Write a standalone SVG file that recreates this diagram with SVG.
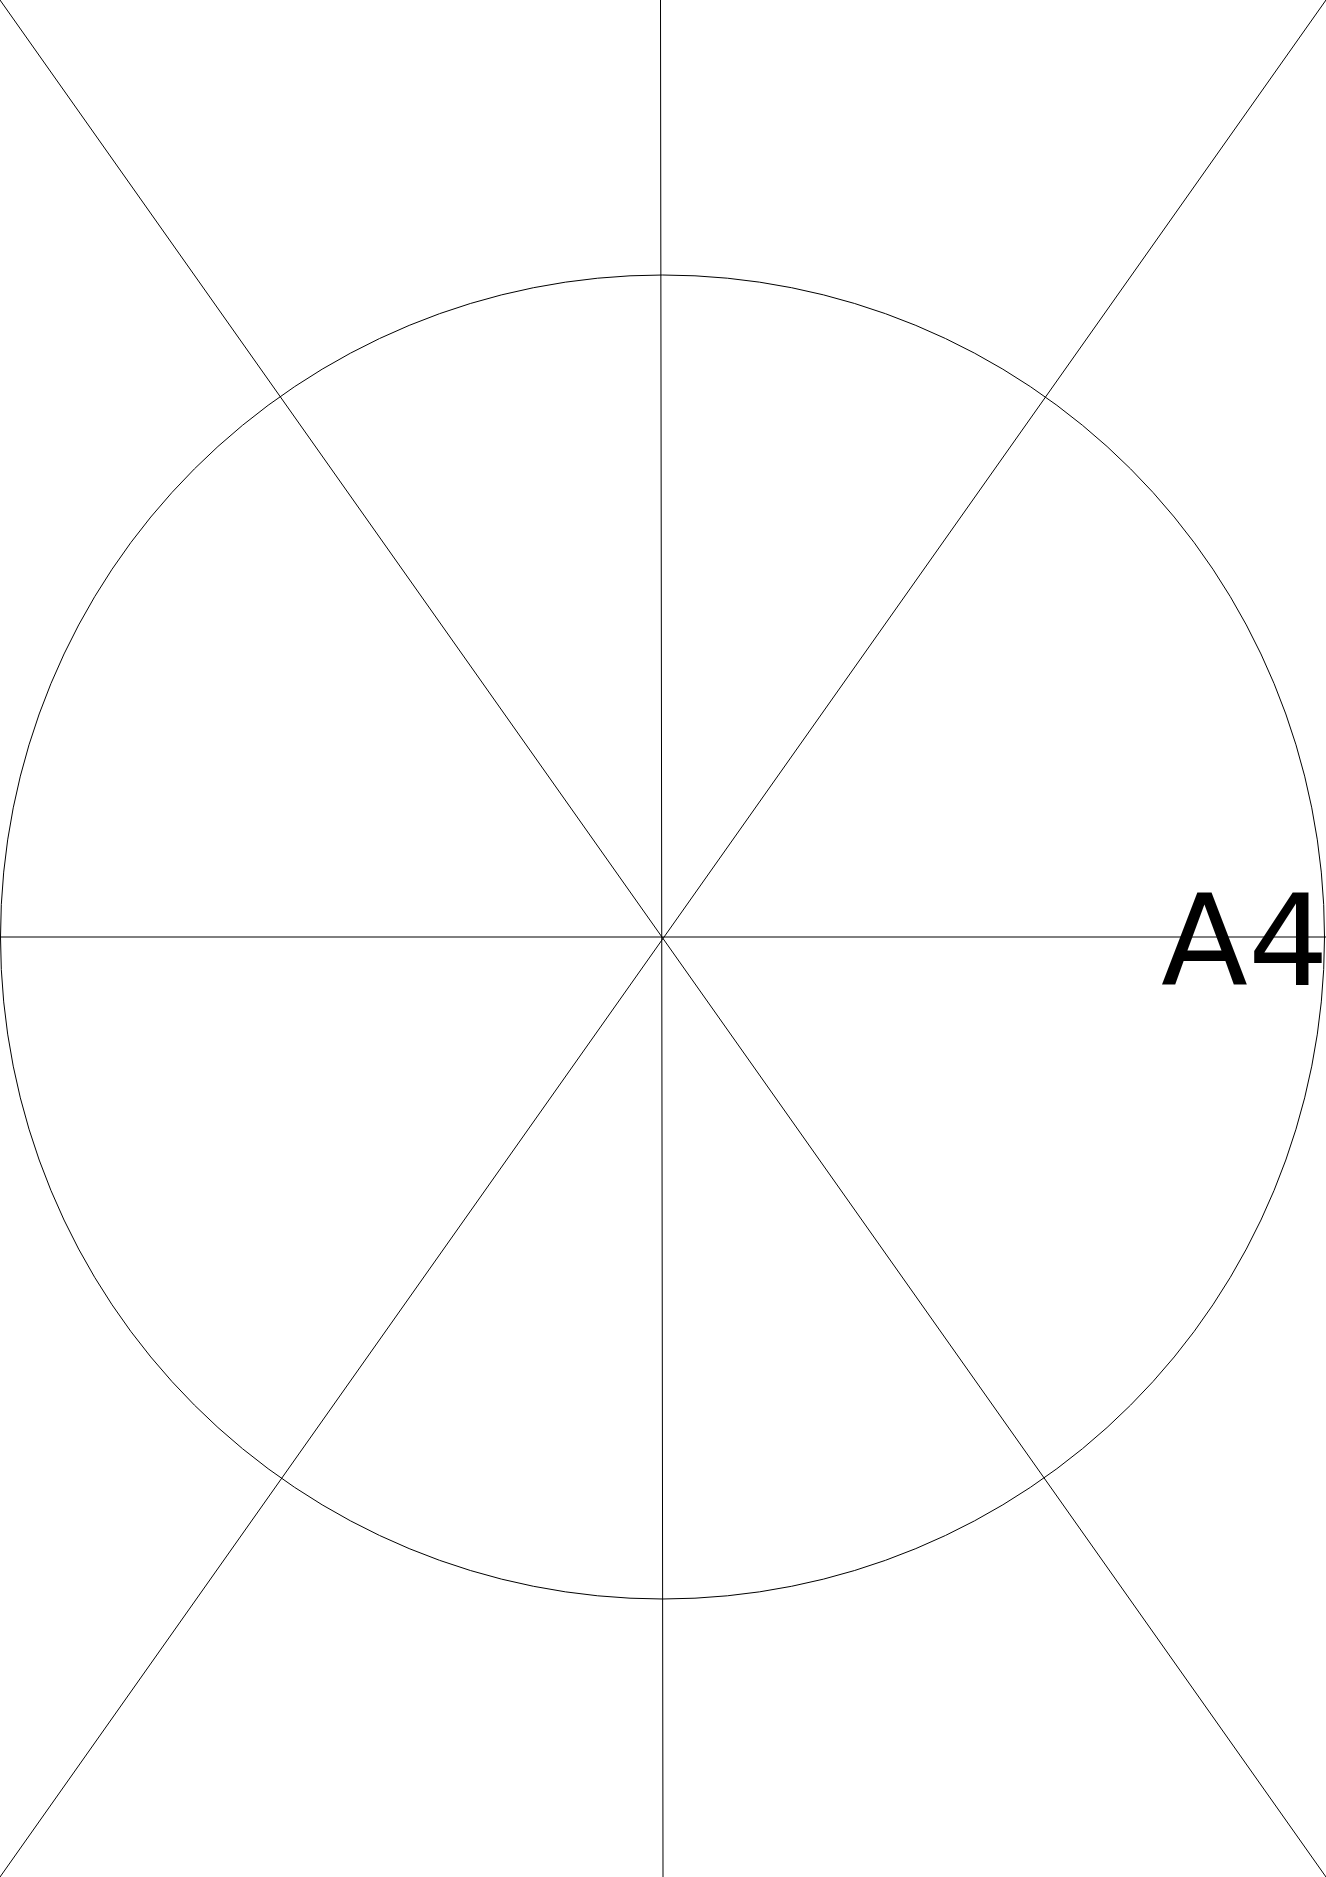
<svg xmlns="http://www.w3.org/2000/svg" width="1326" height="1877" viewBox="0 0 1326 1877">
<style>
.ln{stroke:#000;stroke-width:1;fill:none}
.lbl{font-family:"DejaVu Sans",sans-serif;font-size:127px;fill:#000}
</style>
<rect width="1326" height="1877" fill="#fff"/>
<g id="connectors">
<line class="ln" x1="660.5" y1="0" x2="663" y2="1877"/>
<line class="ln" x1="0" y1="0" x2="1326" y2="1877"/>
<line class="ln" x1="1326" y1="0" x2="0" y2="1877"/>
<line class="ln" x1="0" y1="937" x2="1326" y2="937"/>
</g>
<g id="circle">
<circle class="ln" cx="662.5" cy="937" r="662"/>
</g>
<g id="label">
<text class="lbl" x="1161" y="985">A4</text>
</g>
</svg>
